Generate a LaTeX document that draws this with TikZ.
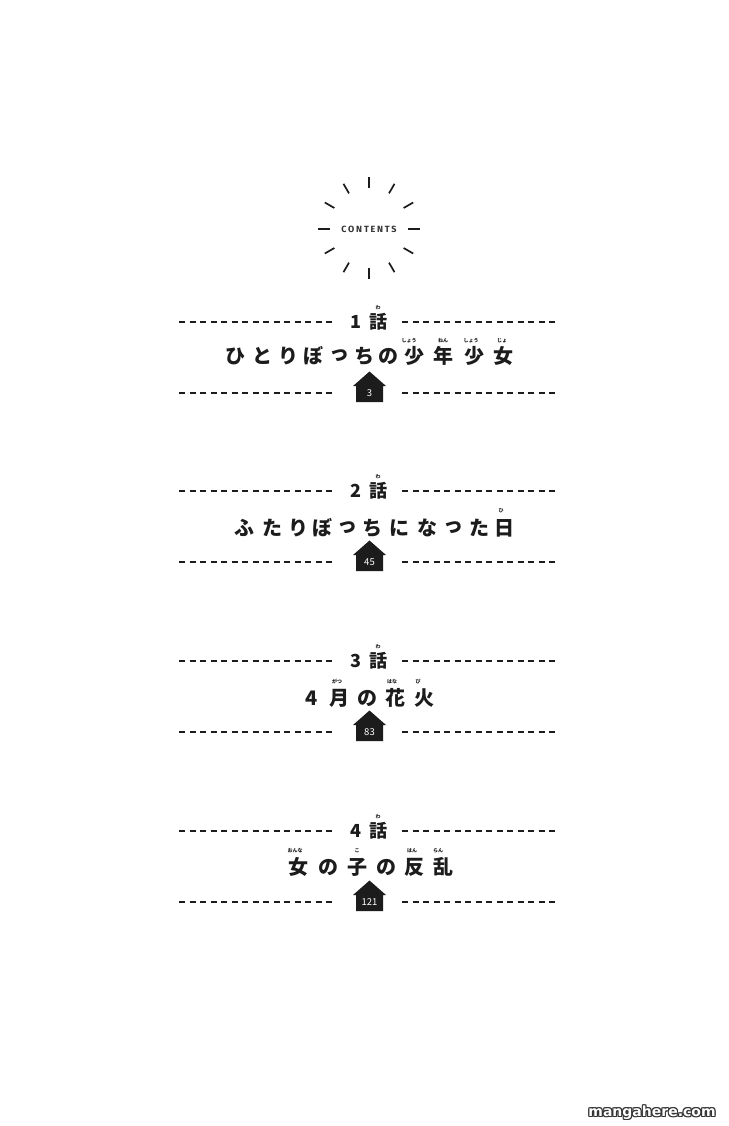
\documentclass[tikz,border=0pt]{standalone}
\usepackage{fontspec}
\usetikzlibrary{calc}
\newfontfamily\jp{Noto Sans CJK JP}
\newfontfamily\capsfont[LetterSpace=20]{Fira Sans}
\newfontfamily\wmfont{DejaVu Sans}
\definecolor{ink}{HTML}{1C1C1C}
\definecolor{capsgray}{HTML}{333333}
\tikzset{
  dline/.style={draw=ink, line width=1.5pt, dash pattern=on 6pt off 4.5pt},
  ray/.style={draw=ink, line width=1.7pt},
  ttl/.style={font=\jp\bfseries\fontsize{20}{20}\selectfont, text=ink, inner sep=0pt, anchor=center},
  chapno/.style={font=\jp\bfseries\fontsize{18}{18}\selectfont, text=ink, inner sep=0pt},
  ruby/.style={font=\jp\bfseries\fontsize{5}{5}\selectfont, text=ink, inner sep=0pt},
  pagenum/.style={font=\jp\fontsize{9.5}{9.5}\selectfont, text=white, inner sep=0pt},
  housefill/.style={fill=ink},
  capsstyle/.style={font=\capsfont\bfseries\fontsize{9}{9}\selectfont, text=capsgray, inner sep=0pt},
  wm/.style={font=\wmfont\bfseries\fontsize{14}{14}\selectfont, inner sep=0pt}
}
% #1 id, #2 base y, #3 chapter digit, #4 page number
\newcommand\tocentry[4]{%
  \coordinate (tl#1a) at (179,#2);
  \coordinate (tl#1b) at (336,#2);
  \coordinate (tr#1a) at (402,#2);
  \coordinate (tr#1b) at (559,#2);
  \draw[dline] (tl#1a) -- (tl#1b);
  \draw[dline] (tr#1a) -- (tr#1b);
  \node[chapno] (cd#1) at (356,#2) {#3};
  \node[chapno] (cw#1) at (378,#2) {話};
  \node[ruby] (cr#1) at (378,#2-14.5) {わ};
  \coordinate (bl#1a) at (179,#2+71);
  \coordinate (bl#1b) at (336,#2+71);
  \coordinate (br#1a) at (402,#2+71);
  \coordinate (br#1b) at (559,#2+71);
  \draw[dline] (bl#1a) -- (bl#1b);
  \draw[dline] (br#1a) -- (br#1b);
  \coordinate (h#1top) at (369.5,#2+49.5);
  \fill[housefill] (h#1top) -- (386,#2+64) -- (383,#2+64) -- (383,#2+80)
     -- (356,#2+80) -- (356,#2+64) -- (353,#2+64) -- cycle;
  \node[pagenum] (pg#1) at (369.5,#2+71) {#4};
}
\begin{document}
\begin{tikzpicture}[x=1pt,y=-1pt]
\useasboundingbox[fill=white] (0,0) rectangle (728,1126);
% sun
\coordinate (sun) at (369,228);
\foreach \a in {30,60,120,150,210,240,300,330,90,270}
  \draw[ray] ($(sun)+(\a:40)$) -- ($(sun)+(\a:51)$);
\draw[ray] (318,229) -- (330,229);
\draw[ray] (408,229) -- (420,229);
\node[capsstyle] (contents) at (369,229.5) {CONTENTS};

% chapter 1
\tocentry{1}{322}{1}{3}
\foreach \x/\c [count=\i] in {235/ひ,262/と,288/り,313/ぼ,339/っ,364/ち,388/の,414/少,443/年,474/少,503/女}
  \node[ttl] (ta\i) at (\x,356) {\c};
\node[ruby] (ra1) at (409,340.5) {しょう};
\node[ruby] (ra2) at (443,340.5) {ねん};
\node[ruby] (ra3) at (471,340.5) {しょう};
\node[ruby] (ra4) at (502,340.5) {じょ};

% chapter 2
\tocentry{2}{491}{2}{45}
\foreach \x/\c [count=\i] in {244/ふ,272/た,298/り,322/ぼ,347/っ,372/ち,399/に,427/な,453/っ,479/た,504/日}
  \node[ttl] (tb\i) at (\x,528) {\c};
\node[ruby] (rb1) at (501,511) {ひ};

% chapter 3
\tocentry{3}{661}{3}{83}
\foreach \x/\c [count=\i] in {312/4,339/月,367/の,395/花,424/火}
  \node[ttl] (tc\i) at (\x,698) {\c};
\node[ruby] (rc1) at (337,681.5) {がつ};
\node[ruby] (rc2) at (392,681.5) {はな};
\node[ruby] (rc3) at (418,681.5) {び};

% chapter 4
\tocentry{4}{831}{4}{121}
\foreach \x/\c [count=\i] in {298/女,328/の,357/子,386/の,414/反,443/乱}
  \node[ttl] (td\i) at (\x,867) {\c};
\node[ruby] (rd1) at (295,850.5) {おんな};
\node[ruby] (rd2) at (357,850.5) {こ};
\node[ruby] (rd3) at (412,850.5) {はん};
\node[ruby] (rd4) at (438,850.5) {らん};

% watermark
\coordinate (wmc) at (652,1113);
\foreach \dx/\dy [count=\k] in {1/0,-1/0,0/1,0/-1,1/1,-1/-1,1/-1,-1/1}
  \node[wm, text=black!80] (wms\k) at ($(wmc)+(\dx,\dy)$) {mangahere.com};
\node[wm, text=white] (wmt) at (wmc) {mangahere.com};
\end{tikzpicture}
\end{document}
